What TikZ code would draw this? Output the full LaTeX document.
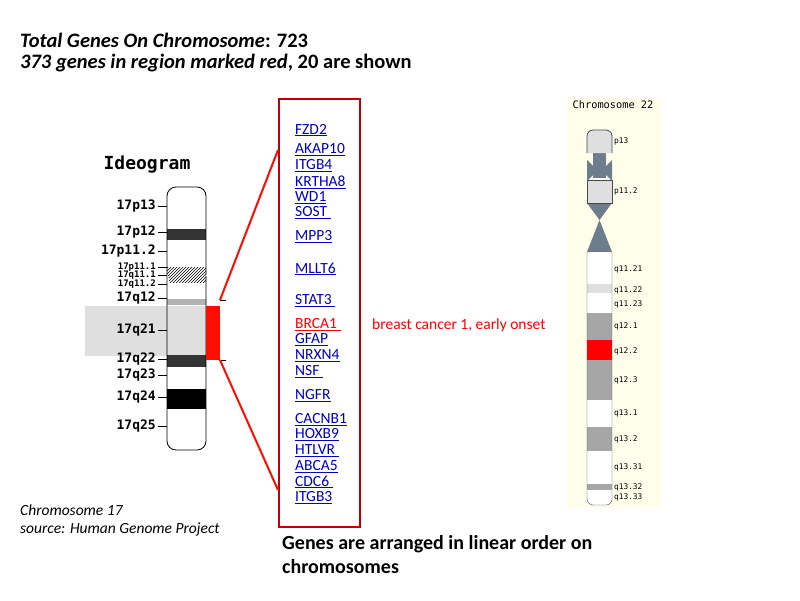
\documentclass[tikz,border=0pt]{standalone}
\usepackage{fontspec}
\setmainfont{Carlito}
\newfontfamily\monof{DejaVu Sans Mono}
\usetikzlibrary{patterns}
\begin{document}
\begin{tikzpicture}[x=1pt,y=-1pt,
  gene/.style={anchor=west,inner sep=0pt,font=\fontsize{15.5}{15.5}\selectfont,text=blue!75!black},
  band/.style={anchor=west,inner sep=0pt,font=\monof\fontsize{13}{13}\selectfont\bfseries},
  sband/.style={anchor=west,inner sep=0pt,font=\monof\fontsize{9}{9}\selectfont\bfseries},
  rband/.style={anchor=west,inner sep=0pt,font=\monof\fontsize{7.8}{7.8}\selectfont},
  txt/.style={anchor=west,inner sep=0pt}]
\useasboundingbox (0,0) rectangle (800,600);
\fill[white] (0,0) rectangle (800,600);
% headings
\node[txt,font=\fontsize{20.5}{20.5}\selectfont] (t1) at (20,40) {\textbf{\textit{Total Genes On Chromosome}: 723}};
\node[txt,font=\fontsize{20.5}{20.5}\selectfont] (t2) at (20,63) {\textbf{\textit{373 genes in region marked red}, 20 are shown}};
\node[txt,font=\fontsize{15.5}{15.5}\selectfont\itshape] (c17) at (20,510) {Chromosome 17};
\node[txt,font=\fontsize{15.5}{15.5}\selectfont\itshape] (src) at (20,529) {source: Human Genome Project};
\node[txt,font=\fontsize{20}{20}\selectfont\bfseries] (g1) at (282,544) {Genes are arranged in linear order on};
\node[txt,font=\fontsize{20}{20}\selectfont\bfseries] (g2) at (282,567) {chromosomes};
% left ideogram
\node[font=\monof\fontsize{18}{18}\selectfont\bfseries] (ideo) at (147,165) {Ideogram};
\fill[gray!25] (85,306) rectangle (206,356);
\fill[black!80] (167,229) rectangle (206,240);
\fill[black!80] (167,355) rectangle (206,367);
\fill[black] (167,389) rectangle (206,409);
\fill[gray!60] (167,299) rectangle (206,305);
\fill[pattern=north east lines] (167,267) rectangle (206,275);
\fill[pattern=north east lines] (169,276) rectangle (206,282);
\draw[thick,rounded corners=9pt] (167,275) -- (167,187) -- (206,187) -- (206,275);
\draw[thick,rounded corners=9pt] (167,276) -- (167,450) -- (206,450) -- (206,276);
\fill[red!90!orange] (206,306) rectangle (220,360);
\draw[thick] (220,300) -- (226,300);
\draw[thick] (220,360) -- (226,360);
\foreach \l/\y in {17p13/206,17p12/232,17p11.2/251,17q12/298,17q21/330,17q22/359,17q23/375,17q24/397,17q25/426}{
  \draw[thick] (158,\y) -- (167,\y);
  \node[band,anchor=east] at (156,\y) {\l};
}
\foreach \l/\y in {17p11.1/267,17q11.1/275,17q11.2/284}{
  \draw[thick] (158,\y) -- (167,\y);
  \node[sband,anchor=east] at (156,\y) {\l};
}
% box
\node[draw=red!75!black,line width=1.2pt,minimum width=81,minimum height=428,inner sep=0pt] (box) at (319.5,313) {};
\coordinate (lt) at (220,300); \coordinate (lb) at (220,360);
\draw[red!90!orange,line width=2pt] (lt) -- (278,150);
\draw[red!90!orange,line width=2pt] (lb) -- (278,490);
\foreach \g/\y in {FZD2/130,AKAP10/150,ITGB4/166,KRTHA8/182,WD1/198,SOST /213,MPP3/237,MLLT6/269,STAT3 /301,GFAP/340,NRXN4/356,NSF /372,NGFR/396,CACNB1/420,HOXB9/435,HTLVR /451,ABCA5/467,CDC6 /482,ITGB3/498}{
  \node[gene] at (295,\y) {\underline{\g}};
}
\node[gene,text=red] (brca) at (295,325) {\underline{BRCA1 }};
\node[txt,text=red,font=\fontsize{15.5}{15.5}\selectfont] (bc) at (372,325) {breast cancer 1, early onset};
% right chromosome
\fill[yellow!8] (567,98) rectangle (660,508);
\node[font=\monof\fontsize{10.3}{10.3}\selectfont] (c22) at (613,105) {Chromosome 22};
\definecolor{slate}{RGB}{110,125,140}
\fill[slate] (593,152) -- (606,152) -- (606,178) -- (593,178) -- cycle;
\fill[slate] (587,160) -- (593,166) -- (593,175) -- (587,181) -- cycle;
\fill[slate] (612,160) -- (606,166) -- (606,175) -- (612,181) -- cycle;
\fill[slate] (587,203) -- (612,203) -- (599.5,220) -- (612,252) -- (587,252) -- (599.5,220) -- cycle;
\fill[gray!25,rounded corners=6pt] (587,153) -- (587,130) -- (612,130) -- (612,153);
\fill[gray!25] (587,148) rectangle (612,153);
\fill[gray!25] (587,180) rectangle (612,203);
\draw[thick,slate!60!black,rounded corners=6pt] (587,153) -- (587,130) -- (612,130) -- (612,153);
\draw[slate!60!black] (587,180) rectangle (612,203);
\fill[white,rounded corners=6pt] (587,252) -- (587,505) -- (612,505) -- (612,252) -- cycle;
\fill[gray!25] (587,284) rectangle (612,293);
\fill[gray!70] (587,313) rectangle (612,340);
\fill[red] (587,340) rectangle (612,360);
\fill[gray!70] (587,360) rectangle (612,400);
\fill[gray!70] (587,427) rectangle (612,451);
\fill[gray!70] (587,484) rectangle (612,490);
\draw[slate!60!black,rounded corners=6pt] (587,252) -- (587,505) -- (612,505) -- (612,252);
\foreach \l/\y in {p13/141,p11.2/191,q11.21/269,q11.22/290,q11.23/304,q12.1/326,q12.2/351,q12.3/380,q13.1/413,q13.2/439,q13.31/467,q13.32/487,q13.33/497}{
  \node[rband] at (614,\y) {\l};
}
\end{tikzpicture}
\end{document}
